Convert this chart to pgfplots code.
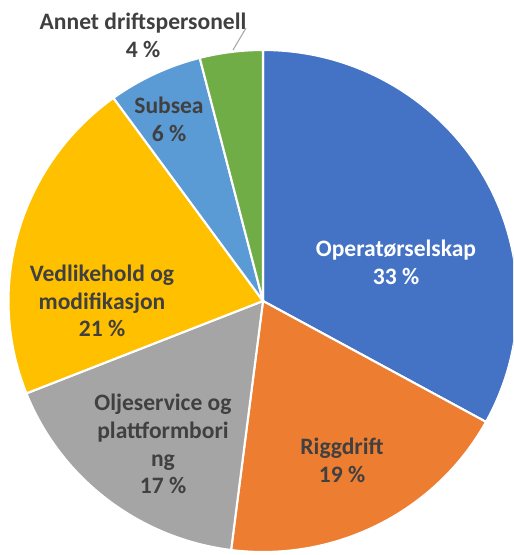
\documentclass[border=0pt]{standalone}
\usepackage{fontspec}
\setmainfont{Carlito}
\usepackage{pgfplots}
\pgfplotsset{compat=1.18}

\definecolor{cBlue}{HTML}{4472C4}
\definecolor{cOrange}{HTML}{ED7D31}
\definecolor{cGray}{HTML}{A5A5A5}
\definecolor{cYellow}{HTML}{FFC000}
\definecolor{cLBlue}{HTML}{5B9BD5}
\definecolor{cGreen}{HTML}{70AD47}
\definecolor{txt}{HTML}{404040}

% pie centre (axis units = pixels) and radii
\def\cx{263}
\def\cy{254}
\def\Rx{5.09cm}
\def\Ry{5.02cm}

% #1 cumulative percent before slice, #2 percent of slice, #3 colour
\newcommand\slice[3]{%
  \pgfmathsetmacro\sa{90-3.6*#1}%
  \pgfmathsetmacro\ea{90-3.6*(#1+#2)}%
  \edef\tmp{\noexpand\fill[#3,draw=white,line width=1.2pt,line join=round]
    (axis cs:\cx,\cy) -- ++(\sa:\Rx\space and \Ry)
    arc[start angle=\sa,end angle=\ea,x radius=\Rx,y radius=\Ry] -- cycle;}%
  \tmp}

\begin{document}
\begin{tikzpicture}
\begin{axis}[
  width=10.26cm, height=11.1cm, scale only axis,
  xmin=0, xmax=513, ymin=0, ymax=555,
  hide axis, clip=true,
]
% values: 33, 19, 17, 21, 6, 4 (percent, clockwise from top)
\slice{0}{33}{cBlue}
\slice{33}{19}{cOrange}
\slice{52}{17}{cGray}
\slice{69}{21}{cYellow}
\slice{90}{6}{cLBlue}
\slice{96}{4}{cGreen}

\begin{scope}[every node/.style={font=\fontsize{13.4}{15.8}\selectfont\bfseries, align=center, text=txt}]
\node[text=white] at (axis cs:396,293) {Operatørselskap\\33 \%};
\node at (axis cs:342,95) {Riggdrift\\19 \%};
\node at (axis cs:163,111) {Oljeservice og\\plattformbori\\ng\\17 \%};
\node at (axis cs:102,254) {Vedlikehold og\\modifikasjon\\21 \%};
\node at (axis cs:169,436) {Subsea\\6 \%};
\node at (axis cs:143,520) {Annet driftspersonell\\4 \%};
\end{scope}
\draw[gray!70, line width=0.6pt] (axis cs:233,505) -- (axis cs:246,527);
\end{axis}
\pgfresetboundingbox
\path (current axis.south west) rectangle (current axis.north east);
\end{tikzpicture}
\end{document}
